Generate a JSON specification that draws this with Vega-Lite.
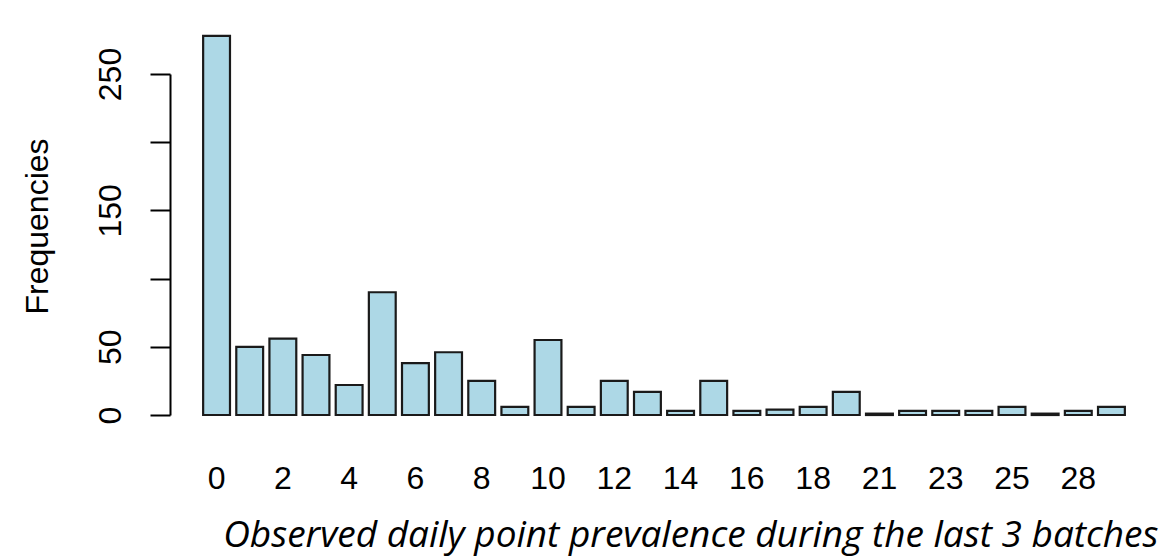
{
  "$schema": "https://vega.github.io/schema/vega-lite/v6.json",
  "width": 988,
  "height": 341,
  "autosize": {"type": "none"},
  "padding": {"left": 170, "top": 74, "right": 18, "bottom": 142},
  "background": "white",
  "config": {"view": {"stroke": null}},
  "data": {"values": [
    {"k": 0, "n": 278}, {"k": 1, "n": 50}, {"k": 2, "n": 56}, {"k": 3, "n": 44},
    {"k": 4, "n": 22}, {"k": 5, "n": 90}, {"k": 6, "n": 38}, {"k": 7, "n": 46},
    {"k": 8, "n": 25}, {"k": 9, "n": 6}, {"k": 10, "n": 55}, {"k": 11, "n": 6},
    {"k": 12, "n": 25}, {"k": 13, "n": 17}, {"k": 14, "n": 3}, {"k": 15, "n": 25},
    {"k": 16, "n": 3}, {"k": 17, "n": 4}, {"k": 18, "n": 6}, {"k": 19, "n": 17},
    {"k": 21, "n": 1}, {"k": 22, "n": 3}, {"k": 23, "n": 3}, {"k": 24, "n": 3},
    {"k": 25, "n": 6}, {"k": 26, "n": 1}, {"k": 28, "n": 3}, {"k": 30, "n": 6}
  ]},
  "mark": {"type": "bar", "fill": "#ADD8E6", "stroke": "#1a1a1a", "strokeWidth": 2.2, "clip": false},
  "encoding": {
    "x": {
      "field": "k", "type": "ordinal",
      "scale": {"paddingInner": 0.19, "paddingOuter": 1.13},
      "axis": {
        "values": [0, 2, 4, 6, 8, 10, 12, 14, 16, 18, 21, 23, 25, 28],
        "labelAngle": 0, "domain": false, "ticks": false, "tickSize": 0,
        "labelFont": "Liberation Sans", "labelFontSize": 32, "labelColor": "#000",
        "labelBaseline": "alphabetic", "labelPadding": 73,
        "title": "Observed daily point prevalence during the last 3 batches",
        "titleFont": "Open Sans", "titleFontStyle": "italic", "titleFontWeight": "normal",
        "titleFontSize": 37, "titleColor": "#000",
        "titleAlign": "right", "titleAnchor": null, "titleX": 988, "titleY": 131,
        "titleBaseline": "alphabetic"
      }
    },
    "y": {
      "field": "n", "type": "quantitative",
      "scale": {"domain": [0, 250], "nice": false, "zero": true},
      "axis": {
        "values": [0, 50, 100, 150, 200, 250],
        "labelExpr": "datum.value == 100 || datum.value == 200 ? '' : datum.label",
        "grid": false, "domainColor": "#000", "domainWidth": 2, "tickColor": "#000",
        "tickWidth": 2, "tickSize": 20,
        "labelAngle": -90, "labelAlign": "center", "labelBaseline": "alphabetic",
        "labelPadding": 30, "labelFont": "Liberation Sans", "labelFontSize": 32,
        "labelColor": "#000",
        "title": "Frequencies", "titleFont": "Liberation Sans", "titleFontSize": 32,
        "titleFontWeight": "normal", "titleColor": "#000",
        "titleAngle": -90, "titleAlign": "center", "titleBaseline": "alphabetic",
        "titleX": -123, "titleY": 152
      }
    }
  }
}
